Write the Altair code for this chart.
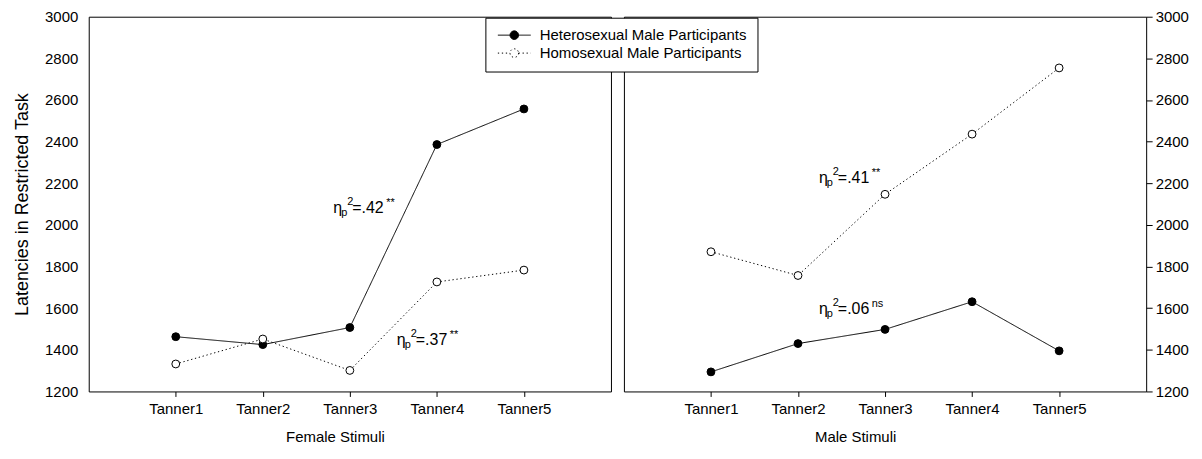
import math
import altair as alt
import pandas as pd

# ---------------- data ----------------
tanner_levels = [1, 2, 3, 4, 5]
groups = ["Heterosexual Male Participants", "Homosexual Male Participants"]
panels = ["Female", "Male"]

female_hetero = [1463, 1425, 1507, 2386, 2557]
female_homo = [1332, 1452, 1301, 1726, 1783]
male_hetero = [1294, 1430, 1498, 1631, 1395]
male_homo = [1871, 1757, 2147, 2436, 2754]

ann_panel = ["Female", "Female", "Male", "Male"]
ann_x = [2.81, 3.54, 2.24, 2.24]
ann_y = [2080, 1445, 2227, 1598]
ann_value = ["=.42", "=.37", "=.41", "=.06"]
ann_sig = ["**", "**", "**", "ns"]

series = {
    ("Female", groups[0]): female_hetero,
    ("Female", groups[1]): female_homo,
    ("Male", groups[0]): male_hetero,
    ("Male", groups[1]): male_homo,
}
rows = []
for (p, g), vals in series.items():
    for t, v in zip(tanner_levels, vals):
        rows.append({"panel": p, "group": g, "tanner": t, "latency": v})
df = pd.DataFrame(rows)
ann = pd.DataFrame({"panel": ann_panel, "x": ann_x, "y": ann_y,
                    "value": ann_value, "sig": ann_sig})

FONT = "Liberation Sans"
Y_DOMAIN = [1200, 3000]

# legend glyph: short line with a circle in the middle (circle as 20-gon)
# symbol unit = sqrt(symbolSize)/2 = 5 px
R = 0.86
HALF = 3.3
circ = " ".join(
    ("M" if i == 0 else "L")
    + f"{R * math.cos(2 * math.pi * i / 20):.3f},{R * math.sin(2 * math.pi * i / 20):.3f}"
    for i in range(20)
)
LEG_PATH = f"M-{HALF},0L-{R},0M{R},0L{HALF},0{circ}Z"

legend = alt.Legend(
    title=None, orient="none", legendX=398, legendY=1,
    symbolType=LEG_PATH, symbolSize=100, symbolStrokeColor="black",
    symbolStrokeWidth=1, symbolOffset=11.5, labelFont=FONT, labelFontSize=15,
    labelColor="black", labelOffset=18, labelLimit=0, padding=10,
    strokeColor="black", fillColor="white", rowPadding=2, cornerRadius=0,
)


def panel(name, orient, title_x):
    d = df[df.panel == name]
    a = ann[ann.panel == name]
    x = alt.X(
        "tanner:Q",
        scale=alt.Scale(domain=[0, 6], nice=False, zero=False),
        axis=alt.Axis(
            values=tanner_levels, labelExpr="'Tanner' + datum.value",
            title=f"{name} Stimuli", grid=False, domain=False,
            tickColor="black", tickSize=5, labelFontSize=15, titleFontSize=15,
            labelColor="black", titleColor="black", labelFont=FONT,
            titleFont=FONT, titleFontWeight="normal", labelPadding=5,
            titlePadding=13, titleX=title_x,
        ),
    )
    if orient == "left":
        yaxis = alt.Axis(
            orient="left", values=list(range(1200, 3001, 200)), format="d",
            ticks=False, domain=False, grid=False, labelFontSize=15,
            labelFont=FONT, labelColor="black", labelPadding=11,
            title="Latencies in Restricted Task", titleFont=FONT,
            titleFontSize=18, titleFontWeight="normal", titleColor="black",
            titlePadding=13,
        )
    else:
        yaxis = alt.Axis(
            orient="right", values=list(range(1200, 3001, 200)), format="d",
            ticks=True, tickSize=6, tickColor="black", domain=False,
            grid=False, labelFontSize=15, labelFont=FONT, labelColor="black",
            labelPadding=3, title=None,
        )
    y = alt.Y("latency:Q", scale=alt.Scale(domain=Y_DOMAIN, nice=False, zero=False),
              axis=yaxis)

    line = alt.Chart(d).mark_line(color="black", strokeWidth=1).encode(
        x=x, y=y,
        strokeDash=alt.StrokeDash(
            "group:N",
            scale=alt.Scale(domain=groups, range=[[1, 0], [1.3, 2.7]]),
            legend=legend,
        ),
    )
    pts = alt.Chart(d).mark_point(
        shape="circle", filled=True, stroke="black", strokeWidth=1,
        size=62, opacity=1,
    ).encode(
        x=x, y=y,
        fill=alt.Fill("group:N",
                      scale=alt.Scale(domain=groups, range=["black", "white"]),
                      legend=legend),
    )

    base = alt.Chart(a).encode(x=alt.X("x:Q"), y=alt.Y("y:Q"))
    t_eta = base.mark_text(align="left", baseline="middle", font=FONT,
                           fontSize=16, color="black").encode(text=alt.value("η"))
    t_p = base.mark_text(align="left", baseline="middle", font=FONT, fontSize=11,
                         dx=8, dy=5, color="black").encode(text=alt.value("p"))
    t_2 = base.mark_text(align="left", baseline="middle", font=FONT, fontSize=11,
                         dx=14, dy=-6, color="black").encode(text=alt.value("2"))
    t_val = base.mark_text(align="left", baseline="middle", font=FONT,
                           fontSize=16, dx=19, color="black").encode(text="value:N")
    t_sig = base.mark_text(align="left", baseline="middle", font=FONT,
                           fontSize=11, dx=53, dy=-5, color="black").encode(text="sig:N")

    return alt.layer(line, pts, t_eta, t_p, t_2, t_val, t_sig).properties(
        width=524, height=376)


chart = alt.hconcat(panel("Female", "left", 247), panel("Male", "right", 232),
                    spacing=11).properties(
    padding={"left": 5, "top": 0, "right": 5, "bottom": 5}
).configure_view(stroke="black", strokeWidth=1).configure_axis(grid=False)

chart.save("out.html", embed_options={"renderer": "svg", "actions": False})
